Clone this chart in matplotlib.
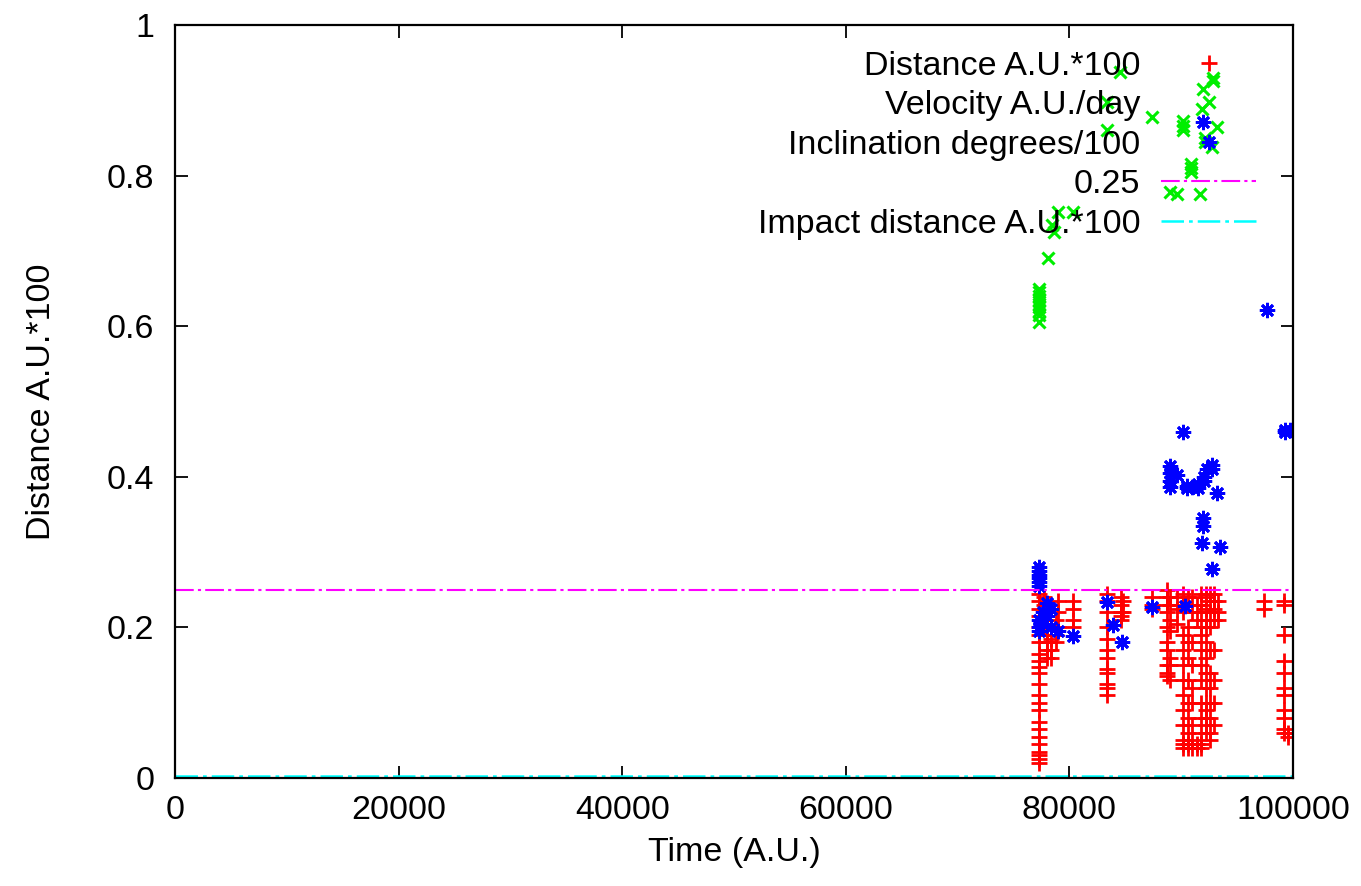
import matplotlib
matplotlib.use("Agg")
import matplotlib.pyplot as plt
import numpy as np

plt.rcParams['font.family'] = ['Liberation Sans', 'DejaVu Sans']

# Distance A.U.*100 (red +), one time per column of points
dist_t = [77300, 77700, 78000, 78400, 78800, 79000, 80300, 83400, 84600, 84800,
          87400, 88700, 89000, 89600, 90200, 90600, 91000, 91400, 91800, 92200,
          92600, 92900, 93300, 97400, 99200, 99600]
dist_v = [
    [0.245, 0.235, 0.225, 0.215, 0.20, 0.19, 0.18, 0.165, 0.155, 0.148, 0.14, 0.125,
     0.11, 0.10, 0.09, 0.075, 0.065, 0.055, 0.045, 0.035, 0.03, 0.025, 0.02],
    [0.24, 0.23, 0.21, 0.20],
    [0.23, 0.22, 0.20, 0.19, 0.18, 0.17, 0.16],
    [0.225, 0.20, 0.185, 0.17, 0.16],
    [0.21, 0.19, 0.18],
    [0.235, 0.22, 0.20],
    [0.235, 0.225, 0.21, 0.20],
    [0.245, 0.235, 0.22, 0.20, 0.185, 0.17, 0.16, 0.145, 0.14, 0.125, 0.12, 0.11],
    [0.24, 0.23, 0.22, 0.215, 0.21],
    [0.235, 0.22],
    [0.24, 0.23, 0.225],
    [0.25, 0.24, 0.23, 0.22, 0.20, 0.18, 0.17, 0.15, 0.14, 0.135],
    [0.24, 0.23, 0.21, 0.195, 0.16, 0.15, 0.13],
    [0.24, 0.225, 0.205],
    [0.245, 0.23, 0.22, 0.19, 0.17, 0.15, 0.13, 0.11, 0.09, 0.07, 0.05, 0.045, 0.04],
    [0.24, 0.20, 0.18, 0.16, 0.13, 0.10, 0.08, 0.06, 0.045, 0.04],
    [0.24, 0.22, 0.18, 0.15, 0.12, 0.10, 0.07, 0.05, 0.04],
    [0.23, 0.21, 0.045, 0.04],
    [0.245, 0.23, 0.22, 0.20, 0.19, 0.17, 0.15, 0.13, 0.10, 0.08, 0.06, 0.045, 0.04],
    [0.245, 0.24, 0.225, 0.21, 0.20, 0.18, 0.16, 0.14, 0.12, 0.10, 0.09, 0.08, 0.07, 0.06],
    [0.245, 0.235, 0.22, 0.20, 0.17, 0.14, 0.12, 0.10, 0.08, 0.06, 0.05],
    [0.245, 0.235, 0.225, 0.21, 0.17, 0.13, 0.10, 0.07],
    [0.235, 0.22, 0.21],
    [0.235, 0.225],
    [0.235, 0.23, 0.19, 0.155, 0.14, 0.12, 0.11, 0.09, 0.08, 0.065, 0.06],
    [0.06, 0.055],
]

# Velocity A.U./day (green x)
vel_t = [77300, 78100, 78450, 78600, 79000, 80300, 83400, 84500, 87400, 89000,
         89600, 90150, 90900, 91700, 91850, 91950, 92100, 92800, 92850, 93200]
vel_v = [
    [0.65, 0.645, 0.64, 0.635, 0.63, 0.625, 0.62, 0.615, 0.605],
    [0.69], [0.735], [0.725], [0.752], [0.751],
    [0.898, 0.86], [0.937], [0.878], [0.778], [0.776],
    [0.872, 0.866, 0.86], [0.815, 0.81, 0.805], [0.776], [0.888], [0.915],
    [0.85, 0.845], [0.838], [0.93, 0.925], [0.864],
]

# Inclination degrees/100 (blue *)
inc_t = [77300, 77600, 78000, 78400, 79000, 80300, 83400, 83900, 84700, 87400,
         89000, 89600, 90200, 90300, 90500, 91000, 91500, 91850, 91950, 92000,
         92300, 92750, 92800, 93200, 93500, 97700, 99300, 99700]
inc_v = [
    [0.28, 0.275, 0.27, 0.265, 0.26, 0.255, 0.21, 0.20, 0.195],
    [0.22, 0.205], [0.233, 0.215], [0.225, 0.20], [0.195], [0.188],
    [0.234], [0.203], [0.181], [0.227],
    [0.414, 0.405, 0.395, 0.387], [0.403], [0.459], [0.228], [0.385, 0.388],
    [0.386], [0.39, 0.385], [0.312], [0.345, 0.335, 0.871], [0.40, 0.395],
    [0.41], [0.277], [0.415, 0.41], [0.379], [0.307], [0.622],
    [0.462, 0.46], [0.462],
]

threshold = 0.25
impact_t = [0, 100000]
impact_v = [0.003, 0.003]


def flat(ts, vs):
    xs = [t for t, col in zip(ts, vs) for _ in col]
    ys = [v for col in vs for v in col]
    return xs, ys


fig = plt.figure(figsize=(13.61, 8.86), dpi=100)
ax = fig.add_axes([0.1286, 0.1219, 0.8214, 0.8499])

fs = 24.5
x, y = flat(dist_t, dist_v)
ax.plot(x, y, linestyle='none', marker='+', color='#ff0000', markersize=11,
        markeredgewidth=2.0, label='Distance A.U.*100')
x, y = flat(vel_t, vel_v)
ax.plot(x, y, linestyle='none', marker='x', color='#00ee00', markersize=9,
        markeredgewidth=2.2, label='Velocity A.U./day')
x, y = flat(inc_t, inc_v)
ax.plot(x, y, linestyle='none', marker=(8, 2, 0), color='#0000ff', markersize=11,
        markeredgewidth=2.0, label='Inclination degrees/100')
ax.plot([0, 100000], [threshold, threshold], color='#ff00ff', linewidth=1.5,
        dashes=(9, 2, 1.5, 2), label='0.25')
ax.plot(impact_t, impact_v, color='#00ffff', linewidth=1.8,
        dashes=(9, 2, 1.5, 2), label='Impact distance A.U.*100')

ax.set_xlim(0, 100000)
ax.set_ylim(0, 1)
ax.set_xticks([0, 20000, 40000, 60000, 80000, 100000])
ax.set_yticks([0, 0.2, 0.4, 0.6, 0.8, 1])
ax.set_yticklabels(['0', '0.2', '0.4', '0.6', '0.8', '1'])
ax.tick_params(axis='both', direction='in', length=9, width=1.3, top=True,
               right=True, labelsize=fs)
ax.tick_params(axis='x', pad=12)
ax.tick_params(axis='y', pad=15)
for s in ax.spines.values():
    s.set_linewidth(1.6)

ax.set_xlabel('Time (A.U.)', fontsize=fs, labelpad=8)
ax.set_ylabel('Distance A.U.*100', fontsize=fs, labelpad=36)

leg = ax.legend(loc='upper right', bbox_to_anchor=(0.99, 1.0), frameon=False,
                markerfirst=False, fontsize=fs, handlelength=2.8,
                handletextpad=0.6, labelspacing=0.25, borderpad=0.25,
                numpoints=1)

fig.savefig('out.png', dpi=100)
